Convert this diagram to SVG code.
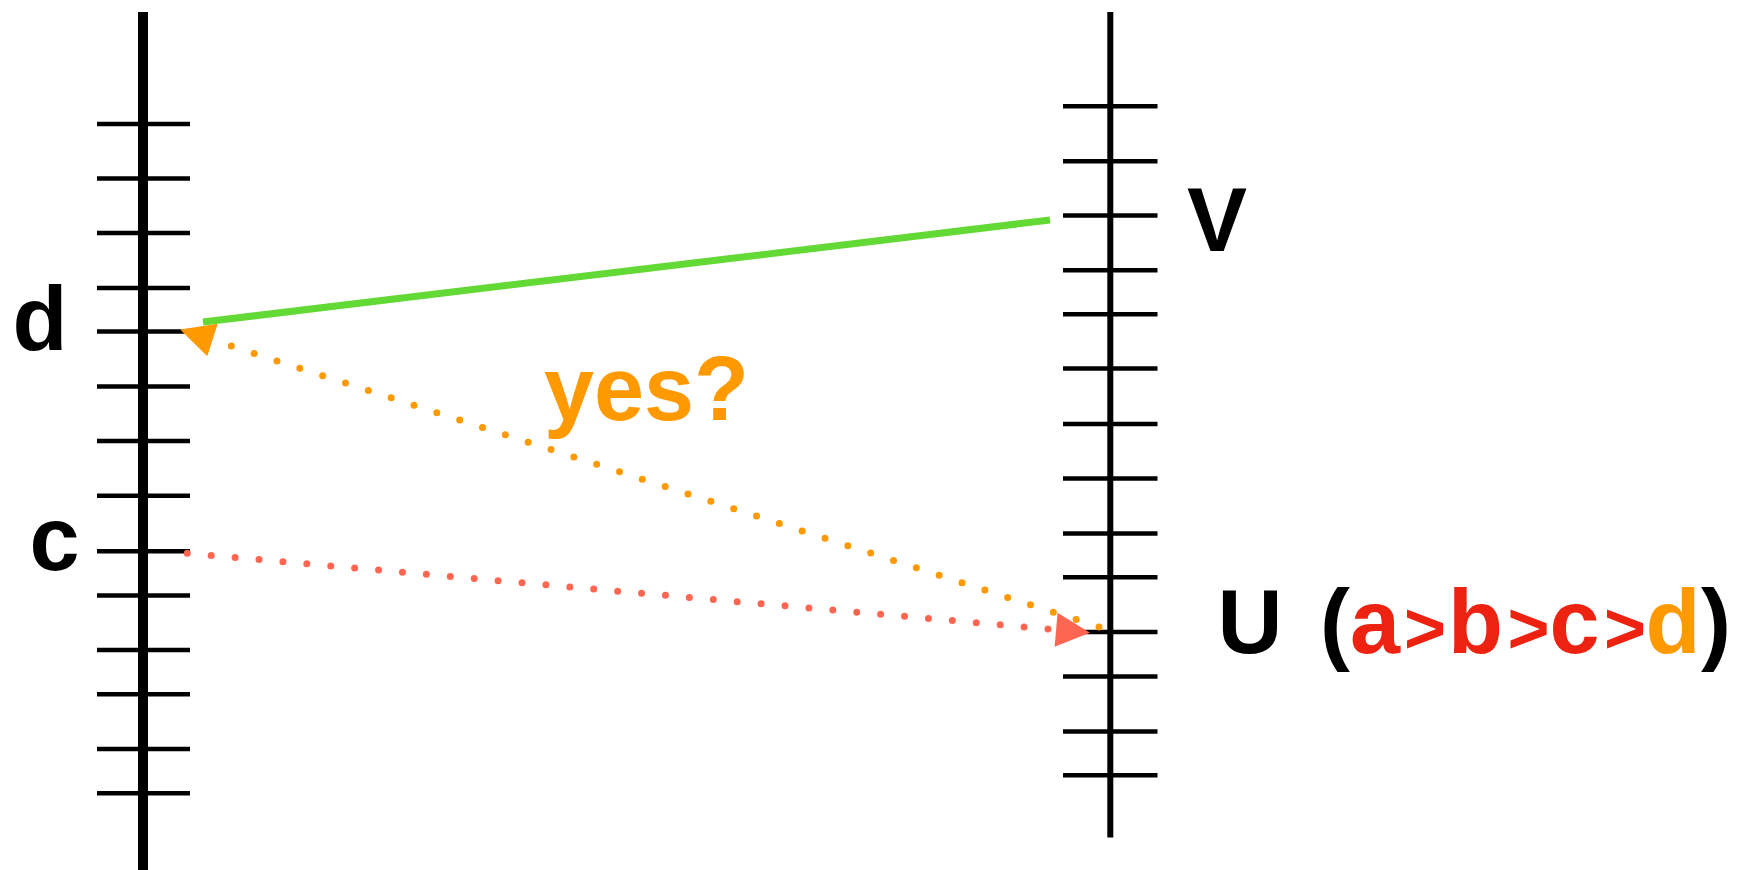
<svg xmlns="http://www.w3.org/2000/svg" width="1739" height="870" viewBox="0 0 1739 870">
<style>
.axis{stroke:#000;fill:none}
.tick{stroke:#000;stroke-width:4.5}
.lbl{font-family:"Liberation Sans",Arial,sans-serif;font-weight:bold;font-size:90px;text-anchor:middle}
.gt{font-size:72px}
.dots{fill:none;stroke-width:7;stroke-linecap:round;stroke-dasharray:0 24}
</style>
<defs>
<marker id="arrOrange" markerUnits="userSpaceOnUse" markerWidth="36" markerHeight="36" refX="0" refY="17" orient="auto" overflow="visible">
<path d="M0,0 L34,17 L0,34 z" fill="#ff9900"/>
</marker>
<marker id="arrRed" markerUnits="userSpaceOnUse" markerWidth="36" markerHeight="36" refX="0" refY="17" orient="auto" overflow="visible">
<path d="M0,0 L34,17 L0,34 z" fill="#ff6652"/>
</marker>
</defs>
<rect width="1739" height="870" fill="#fff"/>
<g id="timeline-left">
<line class="axis" x1="143" y1="12" x2="143" y2="870" stroke-width="10"/>
<g class="tick">
<line x1="97" y1="124" x2="190" y2="124"/>
<line x1="97" y1="178.6" x2="190" y2="178.6"/>
<line x1="97" y1="233" x2="190" y2="233"/>
<line x1="97" y1="288" x2="190" y2="288"/>
<line x1="97" y1="331.5" x2="190" y2="331.5"/>
<line x1="97" y1="386.5" x2="190" y2="386.5"/>
<line x1="97" y1="441" x2="190" y2="441"/>
<line x1="97" y1="495.7" x2="190" y2="495.7"/>
<line x1="97" y1="551.2" x2="190" y2="551.2"/>
<line x1="97" y1="595.5" x2="190" y2="595.5"/>
<line x1="97" y1="649.9" x2="190" y2="649.9"/>
<line x1="97" y1="694.2" x2="190" y2="694.2"/>
<line x1="97" y1="749" x2="190" y2="749"/>
<line x1="97" y1="793.3" x2="190" y2="793.3"/>
</g>
</g>
<g id="timeline-right">
<line class="axis" x1="1110.3" y1="12" x2="1110.3" y2="837.5" stroke-width="6"/>
<g class="tick">
<line x1="1063" y1="106.3" x2="1157.5" y2="106.3"/>
<line x1="1063" y1="161.2" x2="1157.5" y2="161.2"/>
<line x1="1063" y1="215.5" x2="1157.5" y2="215.5"/>
<line x1="1063" y1="270.2" x2="1157.5" y2="270.2"/>
<line x1="1063" y1="314.3" x2="1157.5" y2="314.3"/>
<line x1="1063" y1="368.6" x2="1157.5" y2="368.6"/>
<line x1="1063" y1="424" x2="1157.5" y2="424"/>
<line x1="1063" y1="478.5" x2="1157.5" y2="478.5"/>
<line x1="1063" y1="533.6" x2="1157.5" y2="533.6"/>
<line x1="1063" y1="577.2" x2="1157.5" y2="577.2"/>
<line x1="1063" y1="632.1" x2="1157.5" y2="632.1"/>
<line x1="1063" y1="676.5" x2="1157.5" y2="676.5"/>
<line x1="1063" y1="731.6" x2="1157.5" y2="731.6"/>
<line x1="1063" y1="775.2" x2="1157.5" y2="775.2"/>
</g>
</g>
<g id="labels">
<text id="label-d" class="lbl" x="40" y="350" fill="#000">d</text>
<text id="label-c" class="lbl" x="54.5" y="570" fill="#000">c</text>
<text id="label-V" class="lbl" x="1217" y="251" fill="#000">V</text>
<text id="label-U" class="lbl" y="653" font-size="88"><tspan x="1250" fill="#000">U</tspan><tspan x="1335" fill="#000">(</tspan><tspan x="1375" fill="#ee2211">a</tspan><tspan x="1425" fill="#ee2211" class="gt">&gt;</tspan><tspan x="1475.5" fill="#ee2211">b</tspan><tspan x="1528.5" fill="#ee2211" class="gt">&gt;</tspan><tspan x="1574.5" fill="#ee2211">c</tspan><tspan x="1625" fill="#ee2211" class="gt">&gt;</tspan><tspan x="1673" fill="#ff9900">d</tspan><tspan x="1716" fill="#000">)</tspan></text>
<text id="label-yes" class="lbl" x="646.5" y="420" fill="#ff9900" font-size="80">yes?</text>
</g>
<g id="connectors">
<line x1="203" y1="322" x2="1050" y2="220" stroke="#63d935" stroke-width="7"/>
<path class="dots" d="M1099,627 L212.5,340" stroke="#ff9900" marker-end="url(#arrOrange)"/>
<path class="dots" d="M187.3,553.3 L1056.1,629.7" stroke="#ff6652" marker-end="url(#arrRed)"/>
</g>
</svg>
